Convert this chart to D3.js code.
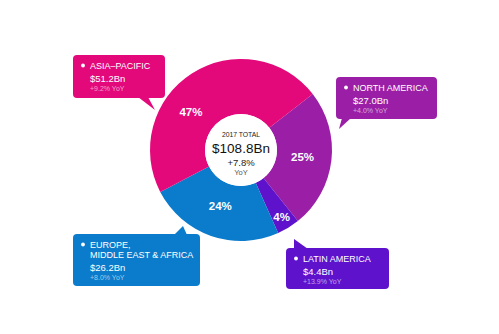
<!DOCTYPE html>
<html>
<head>
<meta charset="utf-8">
<script src="https://cdn.jsdelivr.net/npm/d3@7"></script>
<style>
  html, body { margin: 0; padding: 0; background: #fff; }
  svg { display: block; font-family: "Liberation Sans", Arial, sans-serif; }
</style>
</head>
<body>
<svg id="chart" width="499" height="334"></svg>
<script>
// Regional revenue, 2017 (US$ billions) and year-on-year growth
const regions = ["NORTH AMERICA", "LATIN AMERICA", "EUROPE, MIDDLE EAST & AFRICA", "ASIA–PACIFIC"];
const revenue = [27.0, 4.4, 26.2, 51.2];
const shareLabels = ["25%", "4%", "24%", "47%"];
const yoyLabels = ["+4.0% YoY", "+13.9% YoY", "+8.0% YoY", "+9.2% YoY"];
const valueLabels = ["$27.0Bn", "$4.4Bn", "$26.2Bn", "$51.2Bn"];
const titleLines = [["NORTH AMERICA"], ["LATIN AMERICA"], ["EUROPE,", "MIDDLE EAST & AFRICA"], ["ASIA–PACIFIC"]];
const colors = ["#9a1fa6", "#5e12cc", "#0b7bcc", "#e3097b"];
const totalLines = ["2017 TOTAL", "$108.8Bn", "+7.8%", "YoY"];

const svg = d3.select("#chart");
const cx = 241, cy = 150, rOuter = 91, rInner = 36;

const deg = Math.PI / 180;
const pie = d3.pie().sort(null).value(d => d)
  .startAngle(52 * deg).endAngle(412 * deg);
const arcs = pie(revenue);
const arc = d3.arc().innerRadius(rInner).outerRadius(rOuter);

const g = svg.append("g").attr("transform", `translate(${cx},${cy})`);
g.selectAll("path.slice").data(arcs).join("path")
  .attr("class", "slice")
  .attr("d", arc)
  .attr("fill", (d, i) => colors[i]);

// inner white disc
g.append("circle").attr("r", rInner).attr("fill", "#fff");

// percentage labels: radius and angular shift per slice
const labelRadius = [62, 78, 60, 63];
const labelShift = [0, 0, 1, -20];
g.selectAll("text.pct").data(arcs).join("text")
  .attr("class", "pct")
  .attr("x", (d, i) => {
    const a = (d.startAngle + d.endAngle) / 2 + labelShift[i] * deg;
    return Math.sin(a) * labelRadius[i];
  })
  .attr("y", (d, i) => {
    const a = (d.startAngle + d.endAngle) / 2 + labelShift[i] * deg;
    return -Math.cos(a) * labelRadius[i];
  })
  .attr("dy", "0.35em")
  .attr("text-anchor", "middle")
  .attr("fill", "#fff")
  .attr("font-size", 11.5)
  .attr("font-weight", 600)
  .text((d, i) => shareLabels[i]);

// centre total
const centre = [
  { t: totalLines[0], y: -13, size: 6.8, color: "#222" },
  { t: totalLines[1], y: 2.5, size: 13.5, color: "#111" },
  { t: totalLines[2], y: 15.5, size: 9.5, color: "#222" },
  { t: totalLines[3], y: 24.5, size: 7.5, color: "#555" }
];
g.selectAll("text.ctr").data(centre).join("text")
  .attr("class", "ctr")
  .attr("x", 0).attr("y", d => d.y)
  .attr("text-anchor", "middle")
  .attr("font-size", d => d.size)
  .attr("fill", d => d.color)
  .text(d => d.t);

// callout boxes: rectangle, tail triangle and text
const callouts = [
  { x: 336, y: 77, w: 101, h: 42, tail: [[342, 118], [351, 118], [339, 129]] },
  { x: 286, y: 248, w: 103, h: 41, tail: [[294, 249], [294, 239], [308, 249]] },
  { x: 73, y: 234, w: 127, h: 52, tail: [[174, 235], [183, 226], [187, 235]] },
  { x: 73, y: 55, w: 92, h: 43, tail: [[138, 97], [148, 97], [155, 110]] }
];

callouts.forEach((c, i) => {
  const cg = svg.append("g");
  cg.append("rect")
    .attr("x", c.x).attr("y", c.y)
    .attr("width", c.w).attr("height", c.h)
    .attr("rx", 4)
    .attr("fill", colors[i]);
  cg.append("path")
    .attr("d", d3.line()(c.tail) + "Z")
    .attr("fill", colors[i]);
  cg.append("circle")
    .attr("cx", c.x + 10).attr("cy", c.y + 10.5)
    .attr("r", 1.9).attr("fill", "#fff");
  const tx = c.x + 17;
  let y = c.y + 13.5;
  titleLines[i].forEach(line => {
    cg.append("text").attr("x", tx).attr("y", y)
      .attr("fill", "#fff").attr("font-size", 9)
      .text(line);
    y += 10.5;
  });
  y += 2.5;
  cg.append("text").attr("x", tx).attr("y", y)
    .attr("fill", "#fff").attr("font-size", 9.5)
    .text(valueLabels[i]);
  y += 9;
  cg.append("text").attr("x", tx).attr("y", y)
    .attr("fill", "#fff").attr("fill-opacity", 0.6).attr("font-size", 7)
    .text(yoyLabels[i]);
});
</script>
</body>
</html>
